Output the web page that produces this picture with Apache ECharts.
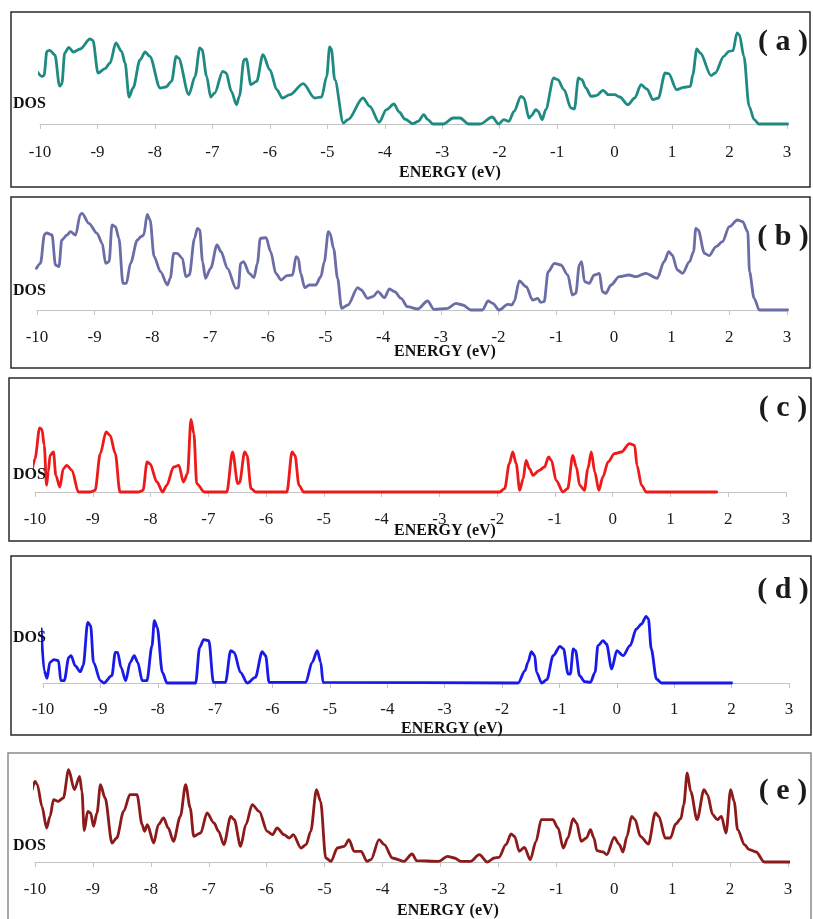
<!DOCTYPE html>
<html>
<head>
<meta charset="utf-8">
<title>DOS panels</title>
<script src="https://cdn.jsdelivr.net/npm/echarts/dist/echarts.min.js"></script>
<style>
  html, body { margin: 0; padding: 0; background: #ffffff; }
  #chart { width: 813px; height: 919px; }
</style>
</head>
<body>
<div id="chart"></div>
<script>
// Density of states (arbitrary units) against energy (eV) for five systems.
const energyMin = -10;
const energyMax = 3;
const panelTags = ['( a )', '( b )', '( c )', '( d )', '( e )'];
const axisTitle = 'ENERGY (eV)';
const dosTitle = 'DOS';

const dosA = [[-10.04,51.7],[-9.97,47.7],[-9.93,48.5],[-9.88,72.7],[-9.83,73.7],[-9.74,69],[-9.66,38],[-9.62,40],[-9.57,71],[-9.50,76.7],[-9.42,72],[-9.30,75],[-9.13,85],[-9.08,83.7],[-8.99,51],[-8.87,55.3],[-8.78,61],[-8.68,81],[-8.58,72.7],[-8.52,61],[-8.45,27],[-8.38,36],[-8.26,64],[-8.17,72],[-8.09,67.7],[-7.91,36],[-7.81,37],[-7.71,42.7],[-7.63,67.7],[-7.59,66],[-7.41,29.3],[-7.30,47.7],[-7.22,76],[-7.18,74.3],[-7.10,47.7],[-7.03,27],[-6.96,31],[-6.82,52.7],[-6.76,51],[-6.67,32.7],[-6.58,19.3],[-6.53,27.7],[-6.45,64.3],[-6.41,65],[-6.33,39.3],[-6.23,42.7],[-6.12,69.3],[-6.0,54.3],[-5.88,34.3],[-5.78,26],[-5.65,29.3],[-5.42,40.3],[-5.22,26],[-5.10,27],[-5.01,47.7],[-4.96,77],[-4.93,75],[-4.87,44.3],[-4.72,1],[-4.64,4.3],[-4.38,26],[-4.26,17.7],[-4.10,1.7],[-3.97,14.3],[-3.84,20],[-3.75,12],[-3.65,5],[-3.51,0.3],[-3.42,2.7],[-3.32,9.3],[-3.25,4.3],[-3.16,0],[-2.98,0],[-2.81,6],[-2.69,6],[-2.54,0],[-2.34,0],[-2.13,7],[-2.02,0],[-1.93,4.3],[-1.84,2.7],[-1.75,12.7],[-1.63,27.7],[-1.58,26],[-1.49,6],[-1.45,8.3],[-1.37,14.3],[-1.33,12.7],[-1.26,4.3],[-1.20,14.3],[-1.06,46],[-0.99,44.3],[-0.88,34.3],[-0.76,16],[-0.70,15],[-0.63,46],[-0.57,44.3],[-0.50,36],[-0.41,27.7],[-0.32,28.3],[-0.20,33.7],[-0.11,29.3],[0.0,29.3],[0.09,27],[0.23,19.3],[0.35,26],[0.46,39.3],[0.56,35],[0.67,24.3],[0.76,26],[0.88,51],[0.94,50.3],[1.08,34.3],[1.20,36.7],[1.32,37.7],[1.36,49.3],[1.43,75],[1.49,71],[1.68,48.3],[1.75,51],[1.90,67.7],[1.99,72.7],[2.06,73.3],[2.13,91],[2.17,89.3],[2.25,67.7],[2.34,17.7],[2.43,4.3],[2.51,0],[2.60,0],[3.01,0]];

const dosB = [[-10.01,41.7],[-9.94,46.7],[-9.87,75.7],[-9.83,77],[-9.74,75],[-9.68,45],[-9.62,43.3],[-9.57,70],[-9.48,75],[-9.42,78.3],[-9.33,75],[-9.25,95.7],[-9.22,96.7],[-9.10,86.7],[-8.96,76.7],[-8.87,66.7],[-8.81,46.7],[-8.75,48.3],[-8.70,85],[-8.64,83.3],[-8.58,71.7],[-8.51,26.7],[-8.45,26.7],[-8.38,46.7],[-8.26,70],[-8.20,73.3],[-8.15,75],[-8.09,95.7],[-8.04,90],[-7.97,53.3],[-7.86,38.3],[-7.74,25],[-7.69,31.7],[-7.63,56.7],[-7.57,56.7],[-7.48,51.7],[-7.42,33.3],[-7.36,35],[-7.27,71.7],[-7.22,81.7],[-7.18,80],[-7.13,48.3],[-7.08,31.7],[-6.99,41.7],[-6.88,65],[-6.81,58.3],[-6.70,41.7],[-6.55,21.7],[-6.51,22.3],[-6.47,46.7],[-6.42,48.3],[-6.32,36.7],[-6.24,32.3],[-6.18,46.7],[-6.13,71.7],[-6.03,72.3],[-5.95,58.3],[-5.86,36.7],[-5.77,30],[-5.67,34.3],[-5.57,35],[-5.51,53.3],[-5.47,51.7],[-5.43,36.7],[-5.36,22.3],[-5.28,25],[-5.17,25],[-5.08,33.3],[-5.02,48.3],[-4.95,78.3],[-4.92,76.7],[-4.86,61.7],[-4.79,31.7],[-4.72,1.7],[-4.61,5],[-4.44,22.3],[-4.38,20],[-4.27,11.7],[-4.18,13.3],[-4.09,18.3],[-3.98,12.3],[-3.89,21],[-3.80,18.3],[-3.69,11.7],[-3.58,3.3],[-3.40,1],[-3.23,9],[-3.12,0.7],[-2.88,1.7],[-2.74,6.7],[-2.62,5],[-2.48,0],[-2.28,0],[-2.18,9],[-2.10,6.7],[-1.99,0],[-1.84,5.7],[-1.77,5],[-1.73,8.3],[-1.64,29],[-1.52,23.3],[-1.41,10],[-1.32,11.7],[-1.27,7.7],[-1.21,8.3],[-1.14,38.3],[-1.03,46.7],[-0.92,45],[-0.80,35],[-0.72,15],[-0.66,16.7],[-0.60,45],[-0.56,48.3],[-0.51,28.3],[-0.43,26.7],[-0.34,35],[-0.25,36.7],[-0.20,18.3],[-0.14,16.7],[-0.05,25],[0.09,33.3],[0.26,35],[0.38,33.3],[0.55,36.7],[0.75,31.7],[0.87,48.3],[0.95,58.3],[1.01,55],[1.10,40],[1.19,36.7],[1.31,48.3],[1.38,58.3],[1.42,81.7],[1.46,80],[1.57,56.7],[1.65,54.3],[1.77,63.3],[1.88,68.3],[2.0,83.3],[2.14,90],[2.23,88.3],[2.32,78.3],[2.35,38.3],[2.43,11.7],[2.52,0],[2.61,0],[3.01,0]];

const dosC = [[-10.05,21.7],[-10.0,33.3],[-9.92,64],[-9.88,62.7],[-9.84,46.7],[-9.80,6.7],[-9.77,20],[-9.74,36.7],[-9.68,40],[-9.64,16.7],[-9.57,5],[-9.51,23.3],[-9.45,26.7],[-9.36,21.7],[-9.25,0],[-9.05,0],[-8.96,1.7],[-8.87,38.3],[-8.77,60],[-8.70,56.7],[-8.61,38.3],[-8.53,0],[-8.21,0],[-8.13,1.7],[-8.06,30],[-8.01,28.3],[-7.89,10],[-7.79,0],[-7.72,6.7],[-7.60,25],[-7.51,26.7],[-7.43,10],[-7.36,18.3],[-7.30,72.7],[-7.25,58.3],[-7.20,8.3],[-7.07,0],[-6.68,0],[-6.58,40],[-6.49,8.3],[-6.46,9.3],[-6.37,40],[-6.33,36.7],[-6.26,3.3],[-6.18,0],[-5.64,0],[-5.55,40],[-5.50,36.7],[-5.43,6.7],[-5.35,0],[-1.96,0],[-1.87,3.3],[-1.79,28.3],[-1.73,40],[-1.67,28.3],[-1.61,1.7],[-1.55,13.3],[-1.50,31.7],[-1.44,23.3],[-1.38,16.7],[-1.27,21.7],[-1.18,25],[-1.11,35],[-1.06,31.7],[-0.98,11.7],[-0.86,0],[-0.78,3.3],[-0.69,36.7],[-0.63,25],[-0.57,6.7],[-0.49,1.7],[-0.43,23.3],[-0.37,40],[-0.31,20],[-0.24,1.7],[-0.17,15],[-0.08,30],[0.03,38.3],[0.15,40],[0.29,48.3],[0.38,46.7],[0.42,26.7],[0.50,6.7],[0.58,0],[1.80,0]];

const dosD = [[-10.03,54],[-9.98,12.3],[-9.93,4.7],[-9.88,20.7],[-9.81,23.3],[-9.73,22.3],[-9.69,2.3],[-9.63,2.3],[-9.55,25.7],[-9.51,27.3],[-9.44,17.3],[-9.35,11.3],[-9.30,17.3],[-9.22,60.7],[-9.17,57.3],[-9.12,20.7],[-9.0,2.3],[-8.94,0],[-8.80,7.3],[-8.74,30.7],[-8.70,30.7],[-8.64,15.7],[-8.56,2.3],[-8.48,20.7],[-8.41,27.3],[-8.35,20.7],[-8.27,2.3],[-8.19,2.3],[-8.10,37.3],[-8.06,62.3],[-8.01,55.7],[-7.92,10.7],[-7.84,0],[-7.34,0],[-7.27,35.7],[-7.20,43.3],[-7.11,42.3],[-7.03,0.7],[-6.82,0.7],[-6.73,32.3],[-6.67,30.7],[-6.56,10.7],[-6.44,0],[-6.30,5.7],[-6.18,31.3],[-6.12,27.3],[-6.06,0.7],[-5.42,0.7],[-5.31,20.7],[-5.22,32.3],[-5.16,20.7],[-5.12,0.7],[-1.72,0],[-1.60,12.3],[-1.55,20.7],[-1.49,31.3],[-1.43,27.3],[-1.40,10.7],[-1.31,0],[-1.22,3.3],[-1.11,27.3],[-0.99,36.7],[-0.93,34],[-0.85,9],[-0.81,9],[-0.76,34],[-0.72,32.3],[-0.65,7.3],[-0.56,1.3],[-0.46,0.7],[-0.38,10.7],[-0.33,37.3],[-0.24,42.3],[-0.18,39],[-0.09,14],[0.0,32.3],[0.11,27.3],[0.23,37.3],[0.34,54],[0.43,59],[0.51,66.7],[0.55,64],[0.60,34],[0.69,4],[0.78,0],[2.0,0]];

const dosE = [[-10.05,72.3],[-10.0,80.7],[-9.96,77.3],[-9.88,55.7],[-9.80,34],[-9.74,45.7],[-9.68,62.3],[-9.60,60.7],[-9.51,64],[-9.42,92.3],[-9.32,72.3],[-9.23,85.7],[-9.19,70.7],[-9.15,31.3],[-9.09,50.7],[-9.04,49],[-8.99,35.7],[-8.93,49],[-8.87,77.3],[-8.79,64],[-8.67,19],[-8.59,24],[-8.47,50.7],[-8.36,67.3],[-8.24,67.3],[-8.15,37.3],[-8.11,30.7],[-8.06,37.3],[-7.95,19],[-7.87,37.3],[-7.78,44],[-7.70,34],[-7.61,20.7],[-7.49,45.7],[-7.40,77.3],[-7.32,54],[-7.26,25.7],[-7.14,29],[-7.03,49],[-6.91,39],[-6.83,30.7],[-6.74,17.3],[-6.62,45.7],[-6.56,42.3],[-6.45,15.7],[-6.36,37.3],[-6.25,57.3],[-6.13,50.7],[-5.99,30.7],[-5.90,27.3],[-5.82,34],[-5.70,27.3],[-5.61,24],[-5.54,27.3],[-5.41,14],[-5.32,17.3],[-5.24,30.7],[-5.14,72.3],[-5.07,60.7],[-4.98,4],[-4.89,0.7],[-4.78,14],[-4.66,15.7],[-4.58,22.3],[-4.49,10.7],[-4.37,10.7],[-4.27,0.7],[-4.20,2.3],[-4.06,22.3],[-3.97,17.3],[-3.83,4],[-3.63,0.7],[-3.49,8],[-3.41,1.3],[-3.03,0.7],[-2.88,5.7],[-2.76,4],[-2.65,0.7],[-2.48,0.7],[-2.33,7.3],[-2.19,0],[-2.07,4],[-1.99,4.7],[-1.87,17.3],[-1.78,28],[-1.72,25.7],[-1.64,10.7],[-1.55,14.7],[-1.45,2.3],[-1.35,20.7],[-1.26,42.3],[-1.06,42.3],[-0.97,34],[-0.88,14],[-0.80,24],[-0.71,43.3],[-0.65,39],[-0.57,20.7],[-0.48,24],[-0.41,32.3],[-0.35,24],[-0.30,11.3],[-0.19,10],[-0.13,7.3],[0.0,24.7],[0.09,17.3],[0.15,10],[0.22,25.7],[0.30,45.7],[0.36,42.3],[0.45,25.7],[0.59,18],[0.71,49],[0.77,45.7],[0.88,24],[0.97,24],[1.06,38],[1.15,43.3],[1.20,57.3],[1.26,89],[1.32,70.7],[1.43,42.3],[1.55,72.3],[1.61,67.3],[1.70,47.3],[1.78,42.3],[1.85,45.7],[1.93,29],[2.01,72.3],[2.07,60.7],[2.13,32.3],[2.25,17.3],[2.33,12.3],[2.45,10],[2.59,0],[3.03,0]];

const seriesData = [dosA, dosB, dosC, dosD, dosE];
const lineColors = ['#1f8a82', '#6a6da6', '#ee1a1a', '#1a1ae8', '#8c1a1a'];

// Layout of each framed panel (pixels)
const layout = [
  { axL: 40, axR: 787, base: 124, frame: [11, 12, 799, 175], frameColor: '#2a2a2a', tagY: 42, dosY: 104, nameX: 450, nameY: 173, labelGap: 20 },
  { axL: 37, axR: 787, base: 310, frame: [11, 197, 799, 171], frameColor: '#2a2a2a', tagY: 237, dosY: 291, nameX: 445, nameY: 352, labelGap: 19 },
  { axL: 35, axR: 786, base: 492, frame: [9, 378, 802, 163], frameColor: '#2a2a2a', tagY: 408, dosY: 475, nameX: 445, nameY: 531, labelGap: 19 },
  { axL: 43, axR: 789, base: 683, frame: [11, 556, 800, 179], frameColor: '#2a2a2a', tagY: 590, dosY: 638, nameX: 452, nameY: 729, labelGap: 18 },
  { axL: 35, axR: 788, base: 862, frame: [8, 753, 803, 170], frameColor: '#8a8a8a', tagY: 791, dosY: 846, nameX: 448, nameY: 911, labelGap: 19 }
];
const plotHeight = 100;
const serif = '"Liberation Serif", "Times New Roman", serif';

const grids = [], xAxes = [], yAxes = [], series = [], graphics = [];
layout.forEach((p, i) => {
  grids.push({ left: p.axL, top: p.base - plotHeight, width: p.axR - p.axL, height: plotHeight, outerBoundsMode: 'none', containLabel: false });
  xAxes.push({
    type: 'value', gridIndex: i, min: energyMin, max: energyMax, interval: 1,
    axisLine: { onZero: false, lineStyle: { color: '#c4c4c4', width: 1 } },
    axisTick: { show: true, length: 5, lineStyle: { color: '#c4c4c4' } },
    splitLine: { show: false },
    axisLabel: { color: '#1a1a1a', fontFamily: serif, fontSize: 17, margin: p.labelGap }
  });
  yAxes.push({ type: 'value', gridIndex: i, min: 0, max: plotHeight, show: false, splitLine: { show: false } });
  series.push({
    type: 'line', xAxisIndex: i, yAxisIndex: i, data: seriesData[i],
    showSymbol: false, smooth: 0.3, smoothMonotone: 'x', clip: false,
    lineStyle: { color: lineColors[i], width: 2.8, join: 'round', cap: 'round' }, z: 3
  });
  graphics.push({
    type: 'rect', shape: { x: p.frame[0], y: p.frame[1], width: p.frame[2], height: p.frame[3] },
    style: { fill: null, stroke: p.frameColor, lineWidth: 1.5 }, z: 0, silent: true
  });
  graphics.push({
    type: 'text', x: 783, y: p.tagY,
    style: { text: panelTags[i], font: 'bold 30px ' + serif, fill: '#1a1a1a', textAlign: 'center', textVerticalAlign: 'middle' }, z: 10
  });
  graphics.push({
    type: 'text', x: 13, y: p.dosY,
    style: { text: dosTitle, font: 'bold 16px ' + serif, fill: '#111', textAlign: 'left', textVerticalAlign: 'middle' }, z: 10
  });
  graphics.push({
    type: 'text', x: p.nameX, y: p.nameY,
    style: { text: axisTitle, font: 'bold 16px ' + serif, fill: '#111', textAlign: 'center', textVerticalAlign: 'middle' }, z: 10
  });
});

const chart = echarts.init(document.getElementById('chart'), null, { renderer: 'canvas' });
chart.setOption({
  backgroundColor: '#ffffff',
  animation: false,
  grid: grids,
  xAxis: xAxes,
  yAxis: yAxes,
  series: series,
  graphic: graphics
});
</script>
</body>
</html>
